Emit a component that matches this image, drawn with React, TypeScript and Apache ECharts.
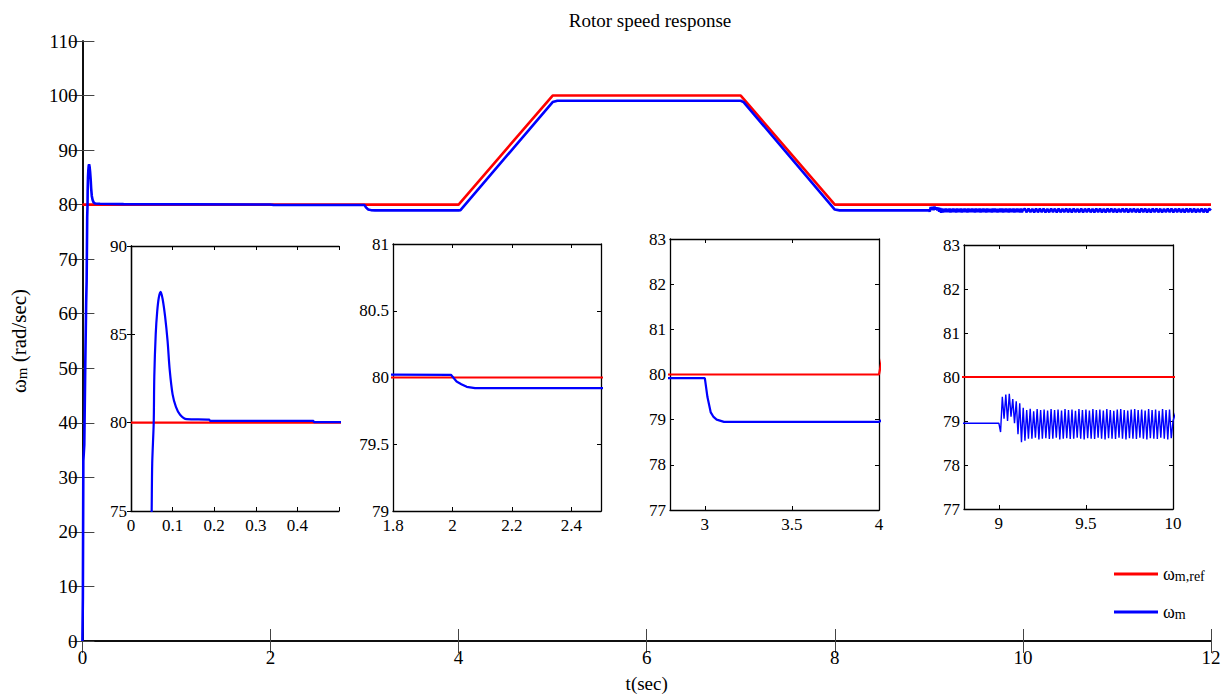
import React, { useEffect, useRef } from 'react';
import * as echarts from 'echarts';

const FONT = 'Liberation Serif';

// Reference speed command (t, value)
const refT = [0, 4, 5, 7, 8, 12];
const refV = [80, 80, 100, 100, 80, 80];

// Measured speed before the oscillating part (t, value)
const speedT = [0, 0.005, 0.01, 0.02, 0.03, 0.04, 0.045, 0.0497, 0.051, 0.0546,
  0.056, 0.0594, 0.063, 0.067, 0.0713, 0.076, 0.082, 0.088, 0.093, 0.1,
  0.108, 0.118, 0.134, 0.188, 0.19, 0.438, 0.44, 1.995, 2.014, 2.03,
  2.048, 2.076, 3.0, 3.015, 3.034, 3.05, 3.068, 3.11, 4.0, 4.02,
  5.0, 5.05, 7.0, 7.03, 8.0, 8.05, 9.0];
const speedV = [0, 8, 33, 36, 50, 62, 66, 75, 77.7, 80,
  82.6, 85, 86.3, 87.1, 87.4, 87.0, 86.0, 84.6, 83.0, 81.6,
  80.9, 80.45, 80.2, 80.17, 80.1, 80.1, 80.03, 80.02, 79.97, 79.95,
  79.93, 79.92, 79.92, 79.5, 79.16, 79.06, 79.0, 78.95, 78.95, 79.0,
  98.8, 99.05, 99.05, 98.8, 79.1, 78.95, 78.95];

// Oscillation after the disturbance, sampled every 0.01 s from 9.00 s to 10.00 s
const oscStart = 9.0;
const oscStep = 0.01;
const oscV = [78.95, 78.75, 79.55, 79.05, 79.6, 79.0, 79.62, 79.1, 79.5, 78.95,
  79.45, 78.7, 79.4, 78.52, 79.3, 78.55, 79.25, 78.6, 79.28, 78.6,
  79.22, 78.62, 79.27, 78.58, 79.25, 78.6, 79.26, 78.61, 79.24, 78.59,
  79.27, 78.6, 79.25, 78.62, 79.26, 78.58, 79.24, 78.6, 79.27, 78.61,
  79.25, 78.59, 79.26, 78.6, 79.23, 78.62, 79.27, 78.6, 79.25, 78.58,
  79.26, 78.61, 79.24, 78.6, 79.27, 78.59, 79.25, 78.62, 79.26, 78.6,
  79.24, 78.58, 79.27, 78.61, 79.25, 78.6, 79.23, 78.59, 79.26, 78.62,
  79.27, 78.6, 79.25, 78.58, 79.24, 78.61, 79.26, 78.6, 79.27, 78.59,
  79.25, 78.62, 79.26, 78.6, 79.24, 78.58, 79.27, 78.61, 79.25, 78.6,
  79.26, 78.59, 79.23, 78.62, 79.27, 78.6, 79.25, 78.58, 79.26, 78.61,
  79.0];

// Tail oscillation, sampled every 0.02 s from 10.02 s to 12.00 s
const tailStart = 10.02;
const tailStep = 0.02;
const tailV = [79.25, 78.6, 79.26, 78.61, 79.24, 78.59, 79.27, 78.6, 79.25, 78.62,
  79.26, 78.58, 79.24, 78.6, 79.27, 78.61, 79.25, 78.59, 79.26, 78.6,
  79.23, 78.62, 79.27, 78.6, 79.25, 78.58, 79.26, 78.61, 79.24, 78.6,
  79.27, 78.59, 79.25, 78.62, 79.26, 78.6, 79.24, 78.58, 79.27, 78.61,
  79.25, 78.6, 79.23, 78.59, 79.26, 78.62, 79.27, 78.6, 79.25, 78.58,
  79.24, 78.61, 79.26, 78.6, 79.27, 78.59, 79.25, 78.62, 79.26, 78.6,
  79.24, 78.58, 79.27, 78.61, 79.25, 78.6, 79.23, 78.59, 79.26, 78.62,
  79.27, 78.6, 79.25, 78.58, 79.24, 78.61, 79.26, 78.6, 79.27, 78.59,
  79.25, 78.62, 79.26, 78.6, 79.24, 78.58, 79.27, 78.61, 79.25, 78.6,
  79.26, 78.59, 79.23, 78.62, 79.27, 78.6, 79.25, 78.58, 79.26, 78.95];

// Main axes ticks
const mainXMax = 12;
const mainXInterval = 2;
const mainYMax = 110;
const mainYInterval = 10;

// Insets: x ranges, x tick values, x label values, y ranges, y interval
const insetXMin = [0, 1.8, 2.8, 8.8];
const insetXMax = [0.5, 2.5, 4, 10];
const insetXTicks = [[0, 0.1, 0.2, 0.3, 0.4, 0.5], [1.8, 2, 2.2, 2.4, 2.5], [3, 3.5, 4], [9, 9.5, 10]];
const insetXLabels = [[0, 0.1, 0.2, 0.3, 0.4], [1.8, 2, 2.2, 2.4], [3, 3.5, 4], [9, 9.5, 10]];
const insetYMin = [75, 79, 77, 77];
const insetYMax = [90, 81, 83, 83];
const insetYInterval = [5, 0.5, 1, 1];

const RED = '#ff0000';
const BLUE = '#0000ff';

function fmtNum(v: number) {
  return String(parseFloat(Number(v).toFixed(4)));
}

function buildOption() {
  const refData = refT.map((t, i) => [t, refV[i]]);
  const speedData: number[][] = speedT.map((t, i) => [t, speedV[i]]);
  oscV.forEach((v, i) => speedData.push([+(oscStart + i * oscStep).toFixed(3), v]));
  tailV.forEach((v, i) => speedData.push([+(tailStart + i * tailStep).toFixed(3), v]));

  const grids: any[] = [
    { left: 79, top: 41, width: 1132, height: 601 },
    { left: 131, top: 246, width: 208, height: 265 },
    { left: 393, top: 244, width: 208, height: 267 },
    { left: 670, top: 239, width: 209, height: 271 },
    { left: 964, top: 245, width: 209, height: 264 },
  ];

  const xAxes: any[] = [];
  const yAxes: any[] = [];
  const series: any[] = [];

  const axisLineMain = { show: true, lineStyle: { color: '#000', width: 1.5 } };
  const axisLineInset = { show: true, lineStyle: { color: '#000', width: 1.3 } };
  const mainLabel = {
    fontFamily: FONT, fontSize: 19, color: '#000',
    formatter: (v: number) => `{a|${fmtNum(v)}}`,
    rich: { a: { fontFamily: FONT, fontSize: 19, color: '#000' } },
  };
  const insetLabel = {
    fontFamily: FONT, fontSize: 17, color: '#000',
    formatter: (v: number) => `{a|${fmtNum(v)}}`,
    rich: { a: { fontFamily: FONT, fontSize: 17, color: '#000' } },
  };

  // main grid axes
  xAxes.push({
    gridIndex: 0, type: 'value', position: 'bottom', min: 0, max: mainXMax, interval: mainXInterval,
    axisLine: axisLineMain,
    axisTick: { inside: true, length: 12, lineStyle: { color: '#444', width: 1 } },
    axisLabel: { ...mainLabel, margin: 7 },
    splitLine: { show: false },
    name: 't(sec)', nameLocation: 'middle', nameGap: 33,
    nameTextStyle: { fontFamily: FONT, fontSize: 19, color: '#000' },
  });
  xAxes.push({
    gridIndex: 0, type: 'value', position: 'top', min: 0, max: mainXMax, interval: mainXInterval,
    axisLine: axisLineMain,
    axisTick: { inside: true, length: 12, lineStyle: { color: '#444', width: 1 } },
    axisLabel: { show: false }, splitLine: { show: false },
  });
  yAxes.push({
    gridIndex: 0, type: 'value', position: 'left', min: 0, max: mainYMax, interval: mainYInterval,
    axisLine: axisLineMain,
    axisTick: { inside: true, length: 12, lineStyle: { color: '#444', width: 1 } },
    axisLabel: { ...mainLabel, margin: 5 },
    splitLine: { show: false },
    name: '{w|ω}{s|m}{t| (rad/sec)}', nameLocation: 'middle', nameGap: 37, nameRotate: 90,
    nameTextStyle: {
      fontFamily: FONT, fontSize: 20, color: '#000',
      rich: {
        w: { fontFamily: FONT, fontSize: 21, color: '#000', lineHeight: 21, padding: [0, 0, 9, 0], verticalAlign: 'top' },
        s: { fontFamily: FONT, fontSize: 15, color: '#000', lineHeight: 14, verticalAlign: 'bottom' },
        t: { fontFamily: FONT, fontSize: 21, color: '#000', lineHeight: 21, padding: [0, 0, 9, 0], verticalAlign: 'top' },
      },
    },
  });
  yAxes.push({
    gridIndex: 0, type: 'value', position: 'right', min: 0, max: mainYMax, interval: mainYInterval,
    axisLine: axisLineMain,
    axisTick: { inside: true, length: 12, lineStyle: { color: '#444', width: 1 } },
    axisLabel: { show: false }, splitLine: { show: false },
  });
  series.push({
    name: 'ref', type: 'line', xAxisIndex: 0, yAxisIndex: 0, data: refData,
    showSymbol: false, symbol: 'none', lineStyle: { color: RED, width: 2.6 }, itemStyle: { color: RED }, z: 2,
  });
  series.push({
    name: 'm', type: 'line', xAxisIndex: 0, yAxisIndex: 0, data: speedData,
    showSymbol: false, symbol: 'none', lineStyle: { color: BLUE, width: 2.6 }, itemStyle: { color: BLUE }, z: 3,
  });

  for (let k = 0; k < 4; k++) {
    const g = k + 1;
    xAxes.push({
      gridIndex: g, type: 'value', position: 'bottom', min: insetXMin[k], max: insetXMax[k],
      axisLine: axisLineInset,
      axisTick: { inside: true, length: 4, customValues: insetXTicks[k], lineStyle: { color: '#000' } },
      axisLabel: { ...insetLabel, margin: 6, customValues: insetXLabels[k] },
      splitLine: { show: false },
    });
    const xBottomIdx = xAxes.length - 1;
    xAxes.push({
      gridIndex: g, type: 'value', position: 'top', min: insetXMin[k], max: insetXMax[k],
      axisLine: axisLineInset,
      axisTick: { inside: true, length: 4, customValues: insetXTicks[k], lineStyle: { color: '#000' } },
      axisLabel: { show: false }, splitLine: { show: false },
    });
    yAxes.push({
      gridIndex: g, type: 'value', position: 'left', min: insetYMin[k], max: insetYMax[k], interval: insetYInterval[k],
      axisLine: axisLineInset,
      axisTick: { inside: true, length: 4, lineStyle: { color: '#000' } },
      axisLabel: { ...insetLabel, margin: 4 },
      splitLine: { show: false },
    });
    const yLeftIdx = yAxes.length - 1;
    yAxes.push({
      gridIndex: g, type: 'value', position: 'right', min: insetYMin[k], max: insetYMax[k], interval: insetYInterval[k],
      axisLine: axisLineInset,
      axisTick: { inside: true, length: 4, lineStyle: { color: '#000' } },
      axisLabel: { show: false }, splitLine: { show: false },
    });
    series.push({
      name: 'ref', type: 'line', xAxisIndex: xBottomIdx, yAxisIndex: yLeftIdx, data: refData,
      showSymbol: false, symbol: 'none', lineStyle: { color: RED, width: 2.2 }, itemStyle: { color: RED }, z: 2, clip: true,
    });
    series.push({
      name: 'm', type: 'line', xAxisIndex: xBottomIdx, yAxisIndex: yLeftIdx, data: speedData,
      showSymbol: false, symbol: 'none', smooth: k === 0 ? 0.3 : false,
      lineStyle: { color: BLUE, width: k === 3 ? 1.4 : 2.2 }, itemStyle: { color: BLUE }, z: 3, clip: true,
    });
  }

  return {
    animation: false,
    backgroundColor: '#fff',
    textStyle: { fontFamily: FONT, color: '#000' },
    title: {
      text: 'Rotor speed response', left: 645, top: 6, textAlign: 'center',
      textStyle: { fontFamily: FONT, fontSize: 19, fontWeight: 'normal', color: '#000' },
    },
    legend: {
      data: ['ref', 'm'], orient: 'vertical', left: 1109, top: 560, itemWidth: 44, itemHeight: 3, itemGap: 8,
      icon: 'rect', selectedMode: false,
      formatter: (name: string) => (name === 'ref' ? '{w|ω}{s|m,ref}' : '{w|ω}{s|m}'),
      textStyle: {
        fontFamily: FONT, fontSize: 17, color: '#000',
        rich: {
          w: { fontFamily: FONT, fontSize: 18, color: '#000', lineHeight: 18, padding: [0, 0, 12, 0], verticalAlign: 'top' },
          s: { fontFamily: FONT, fontSize: 14, color: '#000', lineHeight: 14, verticalAlign: 'bottom' },
        },
      },
    },
    grid: grids,
    xAxis: xAxes,
    yAxis: yAxes,
    series,
  };
}

export default function App() {
  const ref = useRef<HTMLDivElement>(null);
  useEffect(() => {
    const chart = echarts.init(ref.current!, null, { renderer: 'svg' });
    chart.setOption(buildOption() as any);
    return () => chart.dispose();
  }, []);
  return (
    <div
      ref={ref}
      style={{ position: 'fixed', left: 0, top: 0, width: 1229, height: 698, background: '#fff' }}
    />
  );
}
